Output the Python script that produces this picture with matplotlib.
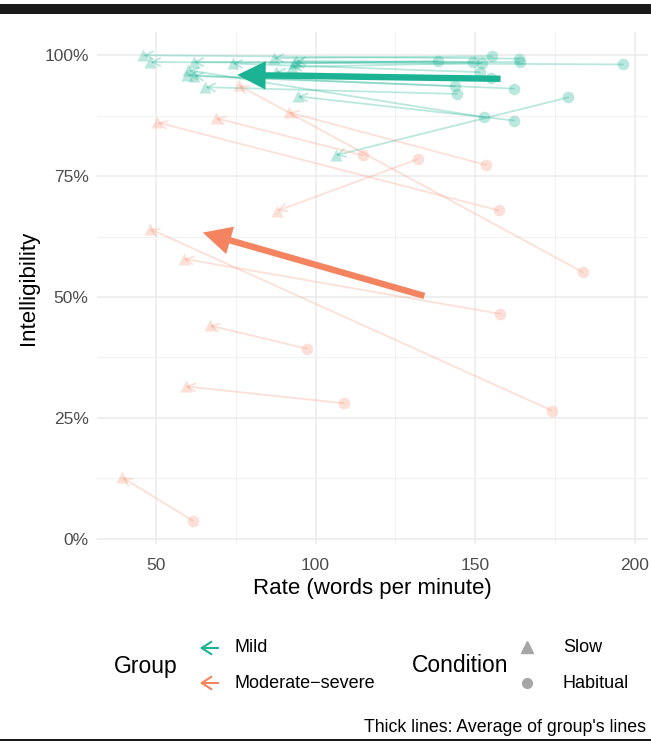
import matplotlib
matplotlib.use("Agg")
import matplotlib.pyplot as plt
import numpy as np
from matplotlib.patches import Rectangle, FancyArrowPatch
from matplotlib.lines import Line2D

plt.rcParams['font.family'] = ['Liberation Sans', 'DejaVu Sans']

# ---------------- data ----------------
# each index is one speaker: habitual (circle) -> slow (triangle)
mild_habitual_rate = [179.2, 144.3, 162.3, 152.7, 143.7, 162.2, 155.0, 151.4,
                      163.6, 196.3, 163.9, 155.3, 138.3, 152.1, 149.2]
mild_habitual_intel = [91.3, 92.0, 86.5, 87.2, 93.6, 93.1, 95.2, 96.5,
                       99.3, 98.1, 98.6, 99.8, 98.8, 98.4, 98.6]
mild_slow_rate = [106.3, 65.5, 94.4, 60.2, 61.8, 59.9, 87.5, 74.0,
                  46.1, 48.3, 61.8, 86.9, 93.2, 92.5, 93.8]
mild_slow_intel = [79.3, 93.4, 91.5, 96.9, 95.7, 95.9, 96.5, 98.3,
                   100.0, 98.6, 98.6, 99.4, 98.3, 97.6, 98.8]

modsev_habitual_rate = [61.6, 108.9, 97.3, 174.0, 157.8, 183.8, 157.4, 114.8, 153.4, 132.0]
modsev_habitual_intel = [3.7, 28.0, 39.3, 26.5, 46.5, 55.1, 67.9, 79.3, 77.3, 78.5]
modsev_slow_rate = [39.4, 59.3, 66.8, 48.0, 58.7, 75.9, 50.5, 68.7, 91.6, 88.0]
modsev_slow_intel = [12.7, 31.5, 44.1, 64.1, 57.9, 93.8, 86.1, 87.0, 88.2, 67.8]

group_names = ["Mild", "Moderate\u2212severe"]
condition_names = ["Slow", "Habitual"]
x_ticks = [50, 100, 150, 200]
y_ticks = [0, 25, 50, 75, 100]
y_tick_labels = ["0%", "25%", "50%", "75%", "100%"]

GREEN = "#1BB394"
ORANGE = "#F3845F"
LIGHT_GREEN = "#1BB394"
LIGHT_ORANGE = "#F79A7C"

W, H = 651, 753
fig = plt.figure(figsize=(W / 100, H / 100), dpi=100)

def fx(px):
    return px / W

def fy(py):
    return 1 - py / H

# panel
pl, pr, pt, pb = 97, 648, 32, 544
ax = fig.add_axes([fx(pl), fy(pb), fx(pr) - fx(pl), fy(pt) - fy(pb)])
xmin = min(min(mild_slow_rate), min(modsev_slow_rate), min(modsev_habitual_rate))
xmax = max(max(mild_habitual_rate), max(modsev_habitual_rate))
ymin = min(modsev_habitual_intel)
ymax = max(mild_slow_intel)
dx = (xmax - xmin) * 0.05
dy = (ymax - ymin) * 0.05
ax.set_xlim(xmin - dx, xmax + dx)
ax.set_ylim(ymin - dy, ymax + dy)

for s in ax.spines.values():
    s.set_visible(False)
ax.set_xticks(x_ticks)
ax.set_xticks([75, 125, 175], minor=True)
ax.set_yticks(y_ticks)
ax.set_yticklabels(y_tick_labels)
ax.set_yticks([12.5, 37.5, 62.5, 87.5], minor=True)
ax.grid(which='major', color='#EBEBEB', lw=1.1)
ax.grid(which='minor', color='#F2F2F2', lw=0.9)
ax.set_axisbelow(True)
ax.tick_params(which='both', length=0)
ax.tick_params(axis='x', pad=10, labelsize=12.5, labelcolor='#4D4D4D')
ax.tick_params(axis='y', pad=6, labelsize=12.5, labelcolor='#4D4D4D')
ax.set_xlabel("Rate (words per minute)", fontsize=16, labelpad=4)
ax.set_ylabel("Intelligibility", fontsize=16, labelpad=4)


def draw_group(hr, hi, sr, si, col):
    for x0, y0, x1, y1 in zip(hr, hi, sr, si):
        ax.annotate('', xy=(x1, y1), xytext=(x0, y0),
                    arrowprops=dict(arrowstyle='->,head_length=0.55,head_width=0.28',
                                    color=col, alpha=0.3, lw=1.3,
                                    shrinkA=0, shrinkB=0), zorder=2)
    ax.scatter(hr, hi, marker='o', s=70, color=col, alpha=0.3, lw=0, zorder=3)
    ax.scatter(sr, si, marker='^', s=75, color=col, alpha=0.3, lw=0, zorder=3)


draw_group(mild_habitual_rate, mild_habitual_intel, mild_slow_rate, mild_slow_intel, LIGHT_GREEN)
draw_group(modsev_habitual_rate, modsev_habitual_intel, modsev_slow_rate, modsev_slow_intel, LIGHT_ORANGE)

# thick average arrows
for hr, hi, sr, si, col in [
    (mild_habitual_rate, mild_habitual_intel, mild_slow_rate, mild_slow_intel, GREEN),
    (modsev_habitual_rate, modsev_habitual_intel, modsev_slow_rate, modsev_slow_intel, ORANGE)]:
    ax.annotate('', xy=(np.mean(sr), np.mean(si)), xytext=(np.mean(hr), np.mean(hi)),
                arrowprops=dict(arrowstyle='-|>,head_length=1.0,head_width=0.5',
                                mutation_scale=13, color=col, lw=4.6,
                                shrinkA=0, shrinkB=0, joinstyle='miter',
                                capstyle='butt'), zorder=5)

# ---------------- legend ----------------
fig.text(fx(114), fy(666), "Group", fontsize=16.5, va='center', ha='left')
for (py, col, lab) in [(648, GREEN, group_names[0]), (683, ORANGE, group_names[1])]:
    fig.add_artist(FancyArrowPatch(
        (fx(221), fy(py)), (fx(197), fy(py)), transform=fig.transFigure,
        arrowstyle='->,head_length=0.7,head_width=0.45', mutation_scale=10,
        color=col, lw=1.5))
    fig.text(fx(234), fy(py), lab, fontsize=13, va='center', ha='left')

fig.text(fx(412), fy(666), "Condition", fontsize=16.5, va='center', ha='left')
fig.add_artist(Line2D([fx(527)], [fy(647)], marker='^', markersize=9,
                      color='#A6A6A6', lw=0, transform=fig.transFigure))
fig.add_artist(Line2D([fx(527)], [fy(683)], marker='o', markersize=7,
                      color='#A6A6A6', lw=0, transform=fig.transFigure))
fig.text(fx(563), fy(648), condition_names[0], fontsize=13, va='center', ha='left')
fig.text(fx(563), fy(683), condition_names[1], fontsize=13, va='center', ha='left')

fig.text(fx(646), fy(727), "Thick lines: Average of group's lines", fontsize=12.8,
         va='center', ha='right')

# frame bars
fig.add_artist(Rectangle((0, fy(14)), 1, fy(4) - fy(14), transform=fig.transFigure,
                         color='#1a1a1a', lw=0))
fig.add_artist(Rectangle((0, fy(741)), 1, fy(739) - fy(741), transform=fig.transFigure,
                         color='#1a1a1a', lw=0))

fig.savefig("out.png", dpi=100)
